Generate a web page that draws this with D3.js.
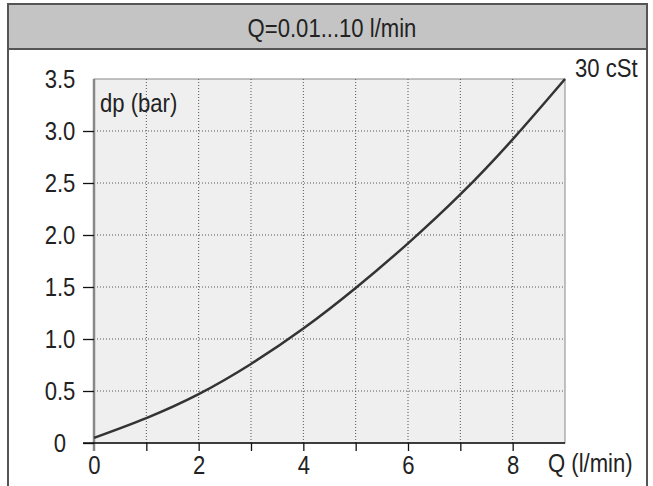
<!DOCTYPE html>
<html>
<head>
<meta charset="utf-8">
<script src="https://cdn.jsdelivr.net/npm/d3@7"></script>
<style>
  body { margin: 0; background: #fff; }
  svg { display: block; }
  text { font-family: "Liberation Sans", Arial, sans-serif; }
</style>
</head>
<body>
<script>
var title = "Q=0.01...10 l/min";
var seriesName = "30 cSt";
var xLabel = "Q (l/min)";
var yLabel = "dp (bar)";

// flow (l/min) vs pressure drop (bar)
var flow = [0, 1, 2, 3, 4, 5, 6, 7, 8, 9];
var dp = [0.05, 0.24, 0.47, 0.76, 1.1, 1.49, 1.92, 2.39, 2.92, 3.5];

var xTicks = [0, 1, 2, 3, 4, 5, 6, 7, 8];
var xTickLabels = [0, 2, 4, 6, 8];
var yTicks = [0, 0.5, 1.0, 1.5, 2.0, 2.5, 3.0, 3.5];

var W = 653, H = 486, fs = 26, narrow = 0.85;
var svg = d3.select("body").append("svg")
  .attr("width", W).attr("height", H);

// condensed look: the source font is a narrow sans
function place(sel, tx, ty) {
  return sel.attr("x", 0).attr("y", 0).attr("dy", null)
    .attr("transform", "translate(" + tx + "," + ty + ") scale(" + narrow + ",1)")
    .attr("font-size", fs).attr("fill", "#222").attr("font-family", null);
}

// outer frame + header band
svg.append("rect")
  .attr("x", 8).attr("y", 4).attr("width", 639).attr("height", H + 10)
  .attr("fill", "#fff").attr("stroke", "#555").attr("stroke-width", 2);
svg.append("rect")
  .attr("x", 8).attr("y", 4).attr("width", 639).attr("height", 45)
  .attr("fill", "#c4c4c4").attr("stroke", "#555").attr("stroke-width", 2);
place(svg.append("text").attr("text-anchor", "middle").text(title), 332, 37);

var x = d3.scaleLinear().domain([0, 9]).range([94, 565]);
var y = d3.scaleLinear().domain([0, 3.5]).range([443, 79]);

// plot background
svg.append("rect")
  .attr("x", x(0)).attr("y", y(3.5))
  .attr("width", x(9) - x(0)).attr("height", y(0) - y(3.5))
  .attr("fill", "#efefef").attr("stroke", "#888").attr("stroke-width", 1);

// dotted grid
svg.append("g").selectAll("line").data(xTicks.filter(function(d) { return d > 0; }))
  .enter().append("line")
  .attr("x1", function(d) { return x(d); }).attr("x2", function(d) { return x(d); })
  .attr("y1", y(3.5)).attr("y2", y(0))
  .attr("stroke", "#555").attr("stroke-dasharray", "1,2");
svg.append("g").selectAll("line").data(yTicks.filter(function(d) { return d > 0 && d < 3.5; }))
  .enter().append("line")
  .attr("x1", x(0)).attr("x2", x(9))
  .attr("y1", function(d) { return y(d); }).attr("y2", function(d) { return y(d); })
  .attr("stroke", "#555").attr("stroke-dasharray", "1,2");

// y axis
var yAxis = svg.append("g")
  .attr("transform", "translate(" + x(0) + ",0)")
  .call(d3.axisLeft(y).tickValues(yTicks).tickSize(11).tickPadding(0)
    .tickFormat(function(d) { return d === 0 ? "0" : d.toFixed(1); }));
yAxis.select(".domain").attr("stroke", "#888").attr("stroke-width", 2.5)
  .attr("d", "M0," + y(3.5) + "V" + (y(0) + 8));
yAxis.selectAll(".tick line").attr("stroke", "#111").attr("stroke-width", 1.3)
  .filter(function(d) { return d === 3.5; }).remove();
place(yAxis.selectAll(".tick text").attr("text-anchor", "middle"), 60 - x(0), 8);

// x axis
var xAxis = svg.append("g")
  .attr("transform", "translate(0," + y(0) + ")")
  .call(d3.axisBottom(x).tickValues(xTicks).tickSize(8).tickPadding(0)
    .tickFormat(function(d) { return xTickLabels.indexOf(d) >= 0 ? d : ""; }));
xAxis.select(".domain").attr("stroke", "#111").attr("stroke-width", 1.3)
  .attr("d", "M83,0H" + x(9));
xAxis.selectAll(".tick line").attr("stroke", "#111").attr("stroke-width", 1.3)
  .filter(function(d) { return d === 0; }).remove();
place(xAxis.selectAll(".tick text"), 0, 31);

// curve
var line = d3.line()
  .x(function(d, i) { return x(flow[i]); })
  .y(function(d) { return y(d); })
  .curve(d3.curveNatural);
svg.append("path")
  .datum(dp)
  .attr("d", line)
  .attr("fill", "none").attr("stroke", "#333").attr("stroke-width", 2.5);

// labels
place(svg.append("text").text(yLabel), 100, 112);
place(svg.append("text").text(xLabel), 548, 472);
place(svg.append("text").text(seriesName), 575, 77);
</script>
</body>
</html>
